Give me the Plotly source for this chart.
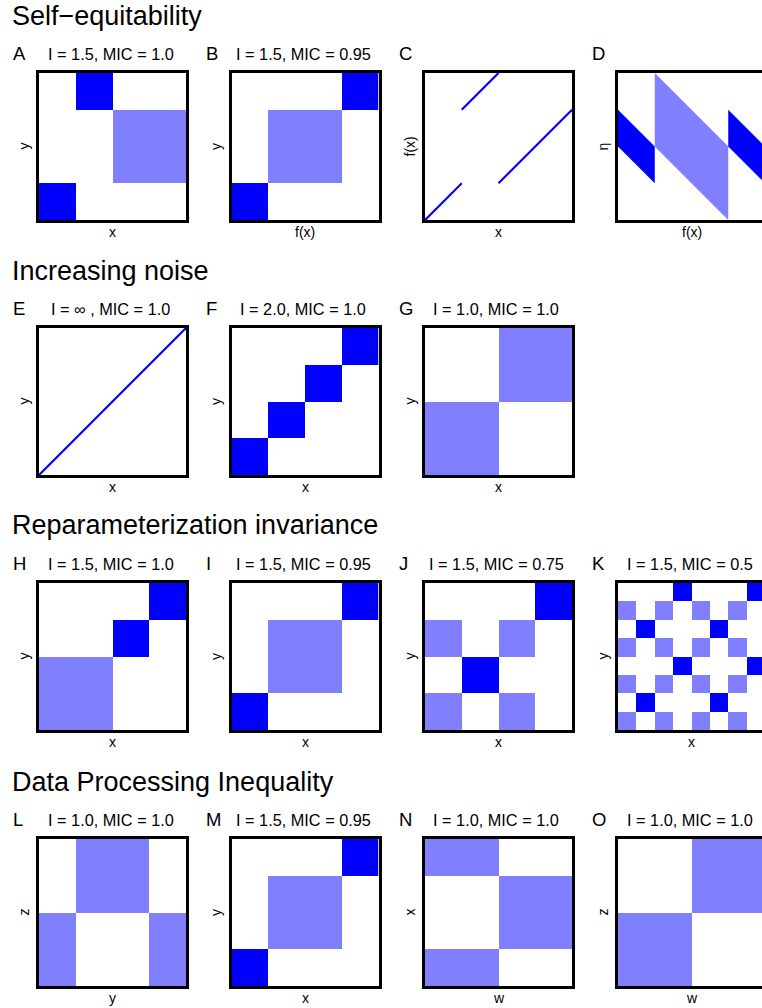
import plotly.graph_objects as go

W, H = 762, 1008
DARK = "#0000FF"
LIGHT = "#8080FF"
FONT = "Liberation Sans, Arial, Helvetica, sans-serif"

# ---------------- data ----------------
section_titles = ["Self\u2212equitability", "Increasing noise",
                  "Reparameterization invariance", "Data Processing Inequality"]

panel_letters = ["A", "B", "C", "D", "E", "F", "G", "H", "I", "J", "K", "L", "M", "N", "O"]
panel_subtitles = ["I = 1.5, MIC = 1.0", "I = 1.5, MIC = 0.95", "", "",
                   "I = \u221e , MIC = 1.0", "I = 2.0, MIC = 1.0", "I = 1.0, MIC = 1.0",
                   "I = 1.5, MIC = 1.0", "I = 1.5, MIC = 0.95", "I = 1.5, MIC = 0.75",
                   "I = 1.5, MIC = 0.5",
                   "I = 1.0, MIC = 1.0", "I = 1.5, MIC = 0.95", "I = 1.0, MIC = 1.0",
                   "I = 1.0, MIC = 1.0"]
x_labels = ["x", "f(x)", "x", "f(x)", "x", "x", "x", "x", "x", "x", "x", "y", "x", "w", "w"]
y_labels = ["y", "y", "f(x)", "\u03b7", "y", "y", "y", "y", "y", "y", "y", "z", "y", "x", "z"]
panel_row = [0, 0, 0, 0, 1, 1, 1, 2, 2, 2, 2, 3, 3, 3, 3]
panel_col = [0, 1, 2, 3, 0, 1, 2, 0, 1, 2, 3, 0, 1, 2, 3]

# grids: rows listed bottom -> top; 0 = empty, 1 = light, 2 = dark
grid_A = [[2, 0, 0, 0], [0, 0, 1, 1], [0, 0, 1, 1], [0, 2, 0, 0]]
grid_B = [[2, 0, 0, 0], [0, 1, 1, 0], [0, 1, 1, 0], [0, 0, 0, 2]]
grid_F = [[2, 0, 0, 0], [0, 2, 0, 0], [0, 0, 2, 0], [0, 0, 0, 2]]
grid_G = [[1, 0], [0, 1]]
grid_H = [[1, 1, 0, 0], [1, 1, 0, 0], [0, 0, 2, 0], [0, 0, 0, 2]]
grid_I = [[2, 0, 0, 0], [0, 1, 1, 0], [0, 1, 1, 0], [0, 0, 0, 2]]
grid_J = [[1, 0, 1, 0], [0, 2, 0, 0], [1, 0, 1, 0], [0, 0, 0, 2]]
grid_K = [[1, 0, 1, 0, 1, 0, 1, 0],
          [0, 2, 0, 0, 0, 2, 0, 0],
          [1, 0, 1, 0, 1, 0, 1, 0],
          [0, 0, 0, 2, 0, 0, 0, 2],
          [1, 0, 1, 0, 1, 0, 1, 0],
          [0, 2, 0, 0, 0, 2, 0, 0],
          [1, 0, 1, 0, 1, 0, 1, 0],
          [0, 0, 0, 2, 0, 0, 0, 2]]
grid_L = [[1, 0, 0, 1], [0, 1, 1, 0]]
grid_M = [[2, 0, 0, 0], [0, 1, 1, 0], [0, 1, 1, 0], [0, 0, 0, 2]]
grid_N = [[1, 0], [0, 1], [0, 1], [1, 0]]
grid_O = [[1, 0], [0, 1]]

# line panels
C_x = [0, 0.25, None, 0.25, 0.5, None, 0.5, 1.0]
C_y = [0, 0.25, None, 0.75, 1.0, None, 0.25, 0.75]
E_x = [0, 1]
E_y = [0, 1]

# parallelograms of panel D
D_dark1_x = [0, 0.25, 0.25, 0]
D_dark1_y = [0.75, 0.5, 0.25, 0.5]
D_light_x = [0.25, 0.75, 0.75, 0.25]
D_light_y = [1.0, 0.5, 0.0, 0.5]
D_dark2_x = [0.75, 1.0, 1.0, 0.75]
D_dark2_y = [0.75, 0.5, 0.25, 0.5]

grids = {"A": grid_A, "B": grid_B, "F": grid_F, "G": grid_G, "H": grid_H,
         "I": grid_I, "J": grid_J, "K": grid_K, "L": grid_L, "M": grid_M,
         "N": grid_N, "O": grid_O}

# ---------------- layout geometry (pixels) ----------------
col_left = [39, 231.5, 425, 618]
row_top = [73, 328, 583, 839]
SIZE = 147
title_y = [16, 271, 525, 782]

fig = go.Figure()
layout = dict(width=W, height=H, margin=dict(l=0, r=0, t=0, b=0),
              paper_bgcolor="white", plot_bgcolor="white", showlegend=False,
              font=dict(family=FONT, color="black"))
annotations = []

def px(x):
    return x / W

def py(y):
    return 1 - y / H

colorscale = [[0, "rgba(255,255,255,0)"], [0.5, LIGHT], [1, DARK]]

for i, letter in enumerate(panel_letters):
    r, c = panel_row[i], panel_col[i]
    left = col_left[c]
    top = row_top[r]
    right = min(left + SIZE, W)
    xmax = (right - left) / SIZE
    n = i + 1
    xa = "x" if n == 1 else f"x{n}"
    ya = "y" if n == 1 else f"y{n}"
    common = dict(showgrid=False, zeroline=False, showticklabels=False, ticks="",
                  showline=True, linecolor="black", linewidth=2.5, fixedrange=True)
    layout["xaxis" if n == 1 else f"xaxis{n}"] = dict(
        domain=[px(left), px(right)], range=[0, xmax], anchor=ya, mirror=True, **common)
    layout["yaxis" if n == 1 else f"yaxis{n}"] = dict(
        domain=[py(top + SIZE), py(top)], range=[0, 1], anchor=xa,
        mirror=(right - left) >= SIZE, **common)

    if letter in grids:
        g = grids[letter]
        nr, nc = len(g), len(g[0])
        fig.add_trace(go.Heatmap(
            z=g, x=[(k + 0.5) / nc for k in range(nc)], y=[(k + 0.5) / nr for k in range(nr)],
            zmin=0, zmax=2, colorscale=colorscale, showscale=False, hoverinfo="skip",
            xaxis=xa, yaxis=ya, xgap=0, ygap=0))
    elif letter == "C":
        fig.add_trace(go.Scatter(x=C_x, y=C_y, mode="lines", line=dict(color=DARK, width=2.2),
                                 xaxis=xa, yaxis=ya, hoverinfo="skip"))
    elif letter == "E":
        fig.add_trace(go.Scatter(x=E_x, y=E_y, mode="lines", line=dict(color=DARK, width=2.2),
                                 xaxis=xa, yaxis=ya, hoverinfo="skip"))
    elif letter == "D":
        for xs, ys, col in [(D_dark1_x, D_dark1_y, DARK), (D_light_x, D_light_y, LIGHT),
                            (D_dark2_x, D_dark2_y, DARK)]:
            fig.add_trace(go.Scatter(x=xs + xs[:1], y=ys + ys[:1], mode="lines", fill="toself",
                                     fillcolor=col, line=dict(width=0, color=col),
                                     xaxis=xa, yaxis=ya, hoverinfo="skip"))

    cx = left + SIZE / 2
    # panel letter
    annotations.append(dict(text=letter, x=px(left - 28), y=py(top - 20), xref="paper", yref="paper",
                            xanchor="left", yanchor="middle", showarrow=False,
                            font=dict(size=18.5, family=FONT)))
    if panel_subtitles[i]:
        annotations.append(dict(text=panel_subtitles[i], x=px(cx - 2), y=py(top - 19),
                                xref="paper", yref="paper", xanchor="center", yanchor="middle",
                                showarrow=False, font=dict(size=16.3, family=FONT)))
    annotations.append(dict(text=x_labels[i], x=px(cx), y=py(top + SIZE + 12),
                            xref="paper", yref="paper", xanchor="center", yanchor="middle",
                            showarrow=False, font=dict(size=14, family=FONT)))
    annotations.append(dict(text=y_labels[i], x=px(left - 16), y=py(top + SIZE / 2),
                            xref="paper", yref="paper", xanchor="center", yanchor="middle",
                            textangle=-90, showarrow=False, font=dict(size=14, family=FONT)))

for k, t in enumerate(section_titles):
    annotations.append(dict(text=t, x=px(10), y=py(title_y[k]), xref="paper", yref="paper",
                            xanchor="left", yanchor="middle", showarrow=False,
                            font=dict(size=27, family=FONT)))

layout["annotations"] = annotations
fig.update_layout(**layout)
fig.write_html("out.html", config={"displayModeBar": False},
               post_script="document.body.style.margin='0px';document.body.style.overflow='hidden';")
